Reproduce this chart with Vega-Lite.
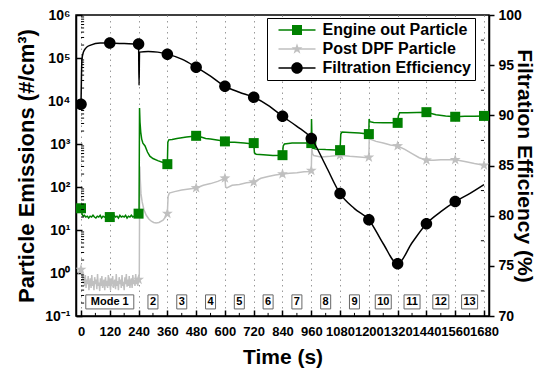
{
  "$schema": "https://vega.github.io/schema/vega-lite/v6.json",
  "width": 413,
  "height": 301,
  "autosize": {"type": "none"},
  "padding": {"left": 76, "top": 15, "right": 59, "bottom": 52},
  "datasets": {
    "series": [
      {"s": "Engine out Particle", "t": 0, "v": 32}, {"s": "Engine out Particle", "t": 2, "v": 27}, {"s": "Engine out Particle", "t": 5, "v": 23}, {"s": "Engine out Particle", "t": 9, "v": 21}, {"s": "Engine out Particle", "t": 14, "v": 22}, {"s": "Engine out Particle", "t": 20, "v": 20}, {"s": "Engine out Particle", "t": 26, "v": 21}, {"s": "Engine out Particle", "t": 32, "v": 19}, {"s": "Engine out Particle", "t": 38, "v": 21}, {"s": "Engine out Particle", "t": 44, "v": 20}, {"s": "Engine out Particle", "t": 50, "v": 22}, {"s": "Engine out Particle", "t": 56, "v": 20}, {"s": "Engine out Particle", "t": 62, "v": 19}, {"s": "Engine out Particle", "t": 68, "v": 21}, {"s": "Engine out Particle", "t": 74, "v": 20}, {"s": "Engine out Particle", "t": 80, "v": 22}, {"s": "Engine out Particle", "t": 86, "v": 19}, {"s": "Engine out Particle", "t": 92, "v": 21}, {"s": "Engine out Particle", "t": 98, "v": 20}, {"s": "Engine out Particle", "t": 104, "v": 21}, {"s": "Engine out Particle", "t": 110, "v": 19}, {"s": "Engine out Particle", "t": 116, "v": 20}, {"s": "Engine out Particle", "t": 120, "v": 20}, {"s": "Engine out Particle", "t": 126, "v": 21}, {"s": "Engine out Particle", "t": 132, "v": 19}, {"s": "Engine out Particle", "t": 138, "v": 22}, {"s": "Engine out Particle", "t": 144, "v": 20}, {"s": "Engine out Particle", "t": 150, "v": 21}, {"s": "Engine out Particle", "t": 156, "v": 19}, {"s": "Engine out Particle", "t": 162, "v": 22}, {"s": "Engine out Particle", "t": 168, "v": 20}, {"s": "Engine out Particle", "t": 174, "v": 21}, {"s": "Engine out Particle", "t": 180, "v": 20}, {"s": "Engine out Particle", "t": 186, "v": 22}, {"s": "Engine out Particle", "t": 192, "v": 19}, {"s": "Engine out Particle", "t": 198, "v": 21}, {"s": "Engine out Particle", "t": 204, "v": 20}, {"s": "Engine out Particle", "t": 210, "v": 22}, {"s": "Engine out Particle", "t": 216, "v": 20}, {"s": "Engine out Particle", "t": 222, "v": 21}, {"s": "Engine out Particle", "t": 228, "v": 22}, {"s": "Engine out Particle", "t": 234, "v": 21}, {"s": "Engine out Particle", "t": 240, "v": 24}, {"s": "Engine out Particle", "t": 242, "v": 25}, {"s": "Engine out Particle", "t": 244, "v": 6900}, {"s": "Engine out Particle", "t": 246, "v": 3200}, {"s": "Engine out Particle", "t": 249, "v": 1900}, {"s": "Engine out Particle", "t": 253, "v": 1300}, {"s": "Engine out Particle", "t": 258, "v": 1050}, {"s": "Engine out Particle", "t": 267, "v": 900}, {"s": "Engine out Particle", "t": 277, "v": 650}, {"s": "Engine out Particle", "t": 287, "v": 520}, {"s": "Engine out Particle", "t": 300, "v": 460}, {"s": "Engine out Particle", "t": 320, "v": 410}, {"s": "Engine out Particle", "t": 342, "v": 370}, {"s": "Engine out Particle", "t": 358, "v": 345}, {"s": "Engine out Particle", "t": 360, "v": 340}, {"s": "Engine out Particle", "t": 362, "v": 1100}, {"s": "Engine out Particle", "t": 366, "v": 1250}, {"s": "Engine out Particle", "t": 380, "v": 1280}, {"s": "Engine out Particle", "t": 400, "v": 1350}, {"s": "Engine out Particle", "t": 420, "v": 1400}, {"s": "Engine out Particle", "t": 440, "v": 1450}, {"s": "Engine out Particle", "t": 460, "v": 1500}, {"s": "Engine out Particle", "t": 480, "v": 1550}, {"s": "Engine out Particle", "t": 500, "v": 1450}, {"s": "Engine out Particle", "t": 520, "v": 1350}, {"s": "Engine out Particle", "t": 540, "v": 1300}, {"s": "Engine out Particle", "t": 560, "v": 1250}, {"s": "Engine out Particle", "t": 580, "v": 1200}, {"s": "Engine out Particle", "t": 600, "v": 1150}, {"s": "Engine out Particle", "t": 602, "v": 950}, {"s": "Engine out Particle", "t": 606, "v": 1100}, {"s": "Engine out Particle", "t": 640, "v": 1100}, {"s": "Engine out Particle", "t": 680, "v": 1050}, {"s": "Engine out Particle", "t": 718, "v": 1000}, {"s": "Engine out Particle", "t": 720, "v": 1050}, {"s": "Engine out Particle", "t": 723, "v": 620}, {"s": "Engine out Particle", "t": 730, "v": 580}, {"s": "Engine out Particle", "t": 760, "v": 560}, {"s": "Engine out Particle", "t": 800, "v": 540}, {"s": "Engine out Particle", "t": 840, "v": 550}, {"s": "Engine out Particle", "t": 843, "v": 900}, {"s": "Engine out Particle", "t": 848, "v": 1000}, {"s": "Engine out Particle", "t": 880, "v": 1050}, {"s": "Engine out Particle", "t": 920, "v": 1050}, {"s": "Engine out Particle", "t": 958, "v": 1060}, {"s": "Engine out Particle", "t": 960, "v": 1050}, {"s": "Engine out Particle", "t": 961, "v": 3800}, {"s": "Engine out Particle", "t": 963, "v": 1200}, {"s": "Engine out Particle", "t": 966, "v": 800}, {"s": "Engine out Particle", "t": 980, "v": 760}, {"s": "Engine out Particle", "t": 1020, "v": 740}, {"s": "Engine out Particle", "t": 1060, "v": 730}, {"s": "Engine out Particle", "t": 1080, "v": 720}, {"s": "Engine out Particle", "t": 1083, "v": 1700}, {"s": "Engine out Particle", "t": 1088, "v": 1900}, {"s": "Engine out Particle", "t": 1120, "v": 1850}, {"s": "Engine out Particle", "t": 1160, "v": 1800}, {"s": "Engine out Particle", "t": 1200, "v": 1700}, {"s": "Engine out Particle", "t": 1201, "v": 3800}, {"s": "Engine out Particle", "t": 1204, "v": 3300}, {"s": "Engine out Particle", "t": 1220, "v": 3150}, {"s": "Engine out Particle", "t": 1260, "v": 3100}, {"s": "Engine out Particle", "t": 1300, "v": 3100}, {"s": "Engine out Particle", "t": 1320, "v": 3100}, {"s": "Engine out Particle", "t": 1323, "v": 4500}, {"s": "Engine out Particle", "t": 1328, "v": 5300}, {"s": "Engine out Particle", "t": 1360, "v": 5300}, {"s": "Engine out Particle", "t": 1400, "v": 5400}, {"s": "Engine out Particle", "t": 1440, "v": 5500}, {"s": "Engine out Particle", "t": 1480, "v": 4800}, {"s": "Engine out Particle", "t": 1520, "v": 4500}, {"s": "Engine out Particle", "t": 1560, "v": 4300}, {"s": "Engine out Particle", "t": 1600, "v": 4400}, {"s": "Engine out Particle", "t": 1640, "v": 4400}, {"s": "Engine out Particle", "t": 1680, "v": 4500},
      {"s": "Post DPF Particle", "t": 0, "v": 1.2}, {"s": "Post DPF Particle", "t": 3, "v": 0.9}, {"s": "Post DPF Particle", "t": 6, "v": 1.0}, {"s": "Post DPF Particle", "t": 9, "v": 0.6}, {"s": "Post DPF Particle", "t": 12, "v": 0.8}, {"s": "Post DPF Particle", "t": 15, "v": 0.5}, {"s": "Post DPF Particle", "t": 18, "v": 0.9}, {"s": "Post DPF Particle", "t": 21, "v": 0.45}, {"s": "Post DPF Particle", "t": 24, "v": 0.7}, {"s": "Post DPF Particle", "t": 27, "v": 0.55}, {"s": "Post DPF Particle", "t": 30, "v": 0.85}, {"s": "Post DPF Particle", "t": 33, "v": 0.4}, {"s": "Post DPF Particle", "t": 36, "v": 0.6}, {"s": "Post DPF Particle", "t": 39, "v": 0.75}, {"s": "Post DPF Particle", "t": 42, "v": 0.45}, {"s": "Post DPF Particle", "t": 45, "v": 0.9}, {"s": "Post DPF Particle", "t": 48, "v": 0.5}, {"s": "Post DPF Particle", "t": 51, "v": 0.65}, {"s": "Post DPF Particle", "t": 54, "v": 0.4}, {"s": "Post DPF Particle", "t": 57, "v": 0.8}, {"s": "Post DPF Particle", "t": 60, "v": 0.55}, {"s": "Post DPF Particle", "t": 63, "v": 0.7}, {"s": "Post DPF Particle", "t": 66, "v": 0.42}, {"s": "Post DPF Particle", "t": 69, "v": 0.95}, {"s": "Post DPF Particle", "t": 72, "v": 0.5}, {"s": "Post DPF Particle", "t": 75, "v": 0.6}, {"s": "Post DPF Particle", "t": 78, "v": 0.38}, {"s": "Post DPF Particle", "t": 81, "v": 0.75}, {"s": "Post DPF Particle", "t": 84, "v": 0.5}, {"s": "Post DPF Particle", "t": 87, "v": 0.85}, {"s": "Post DPF Particle", "t": 90, "v": 0.45}, {"s": "Post DPF Particle", "t": 93, "v": 0.6}, {"s": "Post DPF Particle", "t": 96, "v": 0.7}, {"s": "Post DPF Particle", "t": 99, "v": 0.4}, {"s": "Post DPF Particle", "t": 102, "v": 0.8}, {"s": "Post DPF Particle", "t": 105, "v": 0.5}, {"s": "Post DPF Particle", "t": 108, "v": 0.65}, {"s": "Post DPF Particle", "t": 111, "v": 0.45}, {"s": "Post DPF Particle", "t": 114, "v": 0.9}, {"s": "Post DPF Particle", "t": 117, "v": 0.5}, {"s": "Post DPF Particle", "t": 120, "v": 0.6}, {"s": "Post DPF Particle", "t": 123, "v": 0.4}, {"s": "Post DPF Particle", "t": 126, "v": 0.75}, {"s": "Post DPF Particle", "t": 129, "v": 0.55}, {"s": "Post DPF Particle", "t": 132, "v": 0.85}, {"s": "Post DPF Particle", "t": 135, "v": 0.45}, {"s": "Post DPF Particle", "t": 138, "v": 0.6}, {"s": "Post DPF Particle", "t": 141, "v": 0.7}, {"s": "Post DPF Particle", "t": 144, "v": 0.42}, {"s": "Post DPF Particle", "t": 147, "v": 0.95}, {"s": "Post DPF Particle", "t": 150, "v": 0.5}, {"s": "Post DPF Particle", "t": 153, "v": 0.65}, {"s": "Post DPF Particle", "t": 156, "v": 0.4}, {"s": "Post DPF Particle", "t": 159, "v": 0.8}, {"s": "Post DPF Particle", "t": 162, "v": 0.55}, {"s": "Post DPF Particle", "t": 165, "v": 0.7}, {"s": "Post DPF Particle", "t": 168, "v": 0.45}, {"s": "Post DPF Particle", "t": 171, "v": 0.9}, {"s": "Post DPF Particle", "t": 174, "v": 0.5}, {"s": "Post DPF Particle", "t": 177, "v": 0.62}, {"s": "Post DPF Particle", "t": 180, "v": 0.4}, {"s": "Post DPF Particle", "t": 183, "v": 0.8}, {"s": "Post DPF Particle", "t": 186, "v": 0.55}, {"s": "Post DPF Particle", "t": 189, "v": 0.95}, {"s": "Post DPF Particle", "t": 192, "v": 0.48}, {"s": "Post DPF Particle", "t": 195, "v": 0.7}, {"s": "Post DPF Particle", "t": 198, "v": 0.5}, {"s": "Post DPF Particle", "t": 201, "v": 0.85}, {"s": "Post DPF Particle", "t": 204, "v": 0.45}, {"s": "Post DPF Particle", "t": 207, "v": 0.65}, {"s": "Post DPF Particle", "t": 210, "v": 0.75}, {"s": "Post DPF Particle", "t": 213, "v": 0.45}, {"s": "Post DPF Particle", "t": 216, "v": 0.9}, {"s": "Post DPF Particle", "t": 219, "v": 0.55}, {"s": "Post DPF Particle", "t": 222, "v": 0.7}, {"s": "Post DPF Particle", "t": 225, "v": 0.5}, {"s": "Post DPF Particle", "t": 228, "v": 0.95}, {"s": "Post DPF Particle", "t": 231, "v": 0.55}, {"s": "Post DPF Particle", "t": 234, "v": 0.75}, {"s": "Post DPF Particle", "t": 237, "v": 0.5}, {"s": "Post DPF Particle", "t": 240, "v": 0.7}, {"s": "Post DPF Particle", "t": 243, "v": 0.9}, {"s": "Post DPF Particle", "t": 245, "v": 300}, {"s": "Post DPF Particle", "t": 247, "v": 150}, {"s": "Post DPF Particle", "t": 250, "v": 70}, {"s": "Post DPF Particle", "t": 255, "v": 45}, {"s": "Post DPF Particle", "t": 262, "v": 30}, {"s": "Post DPF Particle", "t": 272, "v": 22}, {"s": "Post DPF Particle", "t": 283, "v": 18}, {"s": "Post DPF Particle", "t": 293, "v": 16}, {"s": "Post DPF Particle", "t": 303, "v": 15}, {"s": "Post DPF Particle", "t": 313, "v": 14.5}, {"s": "Post DPF Particle", "t": 325, "v": 15}, {"s": "Post DPF Particle", "t": 342, "v": 17}, {"s": "Post DPF Particle", "t": 352, "v": 20}, {"s": "Post DPF Particle", "t": 358, "v": 23}, {"s": "Post DPF Particle", "t": 360, "v": 24}, {"s": "Post DPF Particle", "t": 363, "v": 60}, {"s": "Post DPF Particle", "t": 368, "v": 72}, {"s": "Post DPF Particle", "t": 390, "v": 78}, {"s": "Post DPF Particle", "t": 420, "v": 85}, {"s": "Post DPF Particle", "t": 450, "v": 90}, {"s": "Post DPF Particle", "t": 480, "v": 95}, {"s": "Post DPF Particle", "t": 510, "v": 110}, {"s": "Post DPF Particle", "t": 540, "v": 120}, {"s": "Post DPF Particle", "t": 570, "v": 135}, {"s": "Post DPF Particle", "t": 595, "v": 155}, {"s": "Post DPF Particle", "t": 600, "v": 160}, {"s": "Post DPF Particle", "t": 603, "v": 100}, {"s": "Post DPF Particle", "t": 608, "v": 95}, {"s": "Post DPF Particle", "t": 630, "v": 110}, {"s": "Post DPF Particle", "t": 660, "v": 115}, {"s": "Post DPF Particle", "t": 690, "v": 125}, {"s": "Post DPF Particle", "t": 720, "v": 130}, {"s": "Post DPF Particle", "t": 750, "v": 160}, {"s": "Post DPF Particle", "t": 780, "v": 175}, {"s": "Post DPF Particle", "t": 810, "v": 190}, {"s": "Post DPF Particle", "t": 840, "v": 200}, {"s": "Post DPF Particle", "t": 870, "v": 210}, {"s": "Post DPF Particle", "t": 900, "v": 215}, {"s": "Post DPF Particle", "t": 930, "v": 225}, {"s": "Post DPF Particle", "t": 958, "v": 230}, {"s": "Post DPF Particle", "t": 960, "v": 240}, {"s": "Post DPF Particle", "t": 962, "v": 850}, {"s": "Post DPF Particle", "t": 965, "v": 600}, {"s": "Post DPF Particle", "t": 970, "v": 540}, {"s": "Post DPF Particle", "t": 1000, "v": 500}, {"s": "Post DPF Particle", "t": 1040, "v": 520}, {"s": "Post DPF Particle", "t": 1080, "v": 550}, {"s": "Post DPF Particle", "t": 1120, "v": 520}, {"s": "Post DPF Particle", "t": 1160, "v": 500}, {"s": "Post DPF Particle", "t": 1198, "v": 480}, {"s": "Post DPF Particle", "t": 1200, "v": 490}, {"s": "Post DPF Particle", "t": 1202, "v": 1800}, {"s": "Post DPF Particle", "t": 1206, "v": 1300}, {"s": "Post DPF Particle", "t": 1230, "v": 1150}, {"s": "Post DPF Particle", "t": 1260, "v": 1050}, {"s": "Post DPF Particle", "t": 1290, "v": 950}, {"s": "Post DPF Particle", "t": 1320, "v": 900}, {"s": "Post DPF Particle", "t": 1350, "v": 750}, {"s": "Post DPF Particle", "t": 1380, "v": 600}, {"s": "Post DPF Particle", "t": 1410, "v": 480}, {"s": "Post DPF Particle", "t": 1440, "v": 420}, {"s": "Post DPF Particle", "t": 1470, "v": 420}, {"s": "Post DPF Particle", "t": 1500, "v": 430}, {"s": "Post DPF Particle", "t": 1530, "v": 430}, {"s": "Post DPF Particle", "t": 1560, "v": 430}, {"s": "Post DPF Particle", "t": 1600, "v": 390}, {"s": "Post DPF Particle", "t": 1640, "v": 350}, {"s": "Post DPF Particle", "t": 1680, "v": 320}
    ],
    "eff": [
      {"s": "Filtration Efficiency", "t": 0, "v": 91.1}, {"s": "Filtration Efficiency", "t": 2, "v": 94.0}, {"s": "Filtration Efficiency", "t": 4, "v": 95.6}, {"s": "Filtration Efficiency", "t": 10, "v": 96.3}, {"s": "Filtration Efficiency", "t": 20, "v": 96.7}, {"s": "Filtration Efficiency", "t": 40, "v": 97.0}, {"s": "Filtration Efficiency", "t": 80, "v": 97.2}, {"s": "Filtration Efficiency", "t": 120, "v": 97.2}, {"s": "Filtration Efficiency", "t": 180, "v": 97.15}, {"s": "Filtration Efficiency", "t": 238, "v": 97.1}, {"s": "Filtration Efficiency", "t": 240, "v": 97.1}, {"s": "Filtration Efficiency", "t": 242, "v": 93.0}, {"s": "Filtration Efficiency", "t": 244, "v": 96.3}, {"s": "Filtration Efficiency", "t": 280, "v": 96.35}, {"s": "Filtration Efficiency", "t": 320, "v": 96.3}, {"s": "Filtration Efficiency", "t": 360, "v": 96.1}, {"s": "Filtration Efficiency", "t": 420, "v": 95.6}, {"s": "Filtration Efficiency", "t": 480, "v": 94.8}, {"s": "Filtration Efficiency", "t": 540, "v": 93.9}, {"s": "Filtration Efficiency", "t": 600, "v": 92.9}, {"s": "Filtration Efficiency", "t": 660, "v": 92.3}, {"s": "Filtration Efficiency", "t": 720, "v": 91.8}, {"s": "Filtration Efficiency", "t": 780, "v": 91.0}, {"s": "Filtration Efficiency", "t": 840, "v": 89.9}, {"s": "Filtration Efficiency", "t": 900, "v": 88.9}, {"s": "Filtration Efficiency", "t": 960, "v": 87.7}, {"s": "Filtration Efficiency", "t": 1020, "v": 85.0}, {"s": "Filtration Efficiency", "t": 1080, "v": 82.2}, {"s": "Filtration Efficiency", "t": 1140, "v": 80.7}, {"s": "Filtration Efficiency", "t": 1200, "v": 79.6}, {"s": "Filtration Efficiency", "t": 1260, "v": 77.2}, {"s": "Filtration Efficiency", "t": 1320, "v": 75.2}, {"s": "Filtration Efficiency", "t": 1380, "v": 77.3}, {"s": "Filtration Efficiency", "t": 1440, "v": 79.2}, {"s": "Filtration Efficiency", "t": 1500, "v": 80.4}, {"s": "Filtration Efficiency", "t": 1560, "v": 81.4}, {"s": "Filtration Efficiency", "t": 1620, "v": 82.2}, {"s": "Filtration Efficiency", "t": 1680, "v": 83.1}
    ],
    "modes": [
      {"m": "Mode 1", "t": 120}, {"m": "2", "t": 300}, {"m": "3", "t": 420}, {"m": "4", "t": 540}, {"m": "5", "t": 660}, {"m": "6", "t": 780}, {"m": "7", "t": 900}, {"m": "8", "t": 1020}, {"m": "9", "t": 1140}, {"m": "10", "t": 1260}, {"m": "11", "t": 1380}, {"m": "12", "t": 1500}, {"m": "13", "t": 1620}
    ],
    "minorX": [{"t": 60}, {"t": 180}, {"t": 300}, {"t": 420}, {"t": 540}, {"t": 660}, {"t": 780}, {"t": 900}, {"t": 1020}, {"t": 1140}, {"t": 1260}, {"t": 1380}, {"t": 1500}, {"t": 1620}],
    "minorLog": [
      {"v": 0.2}, {"v": 0.3}, {"v": 0.4}, {"v": 0.5}, {"v": 0.6}, {"v": 0.7}, {"v": 0.8}, {"v": 0.9},
      {"v": 2}, {"v": 3}, {"v": 4}, {"v": 5}, {"v": 6}, {"v": 7}, {"v": 8}, {"v": 9},
      {"v": 20}, {"v": 30}, {"v": 40}, {"v": 50}, {"v": 60}, {"v": 70}, {"v": 80}, {"v": 90},
      {"v": 200}, {"v": 300}, {"v": 400}, {"v": 500}, {"v": 600}, {"v": 700}, {"v": 800}, {"v": 900},
      {"v": 2000}, {"v": 3000}, {"v": 4000}, {"v": 5000}, {"v": 6000}, {"v": 7000}, {"v": 8000}, {"v": 9000},
      {"v": 20000}, {"v": 30000}, {"v": 40000}, {"v": 50000}, {"v": 60000}, {"v": 70000}, {"v": 80000}, {"v": 90000},
      {"v": 200000}, {"v": 300000}, {"v": 400000}, {"v": 500000}, {"v": 600000}, {"v": 700000}, {"v": 800000}, {"v": 900000}
    ],
    "minorR": [{"v": 72.5}, {"v": 77.5}, {"v": 82.5}, {"v": 87.5}, {"v": 92.5}, {"v": 97.5}]
  },
  "layer": [
    {
      "layer": [
        {
          "data": {"name": "series"},
          "transform": [{"filter": "datum.s == 'Post DPF Particle'"}],
          "mark": {"type": "line", "color": "#c0c0c0", "strokeWidth": 1.5, "clip": true},
          "encoding": {
            "x": {"field": "t", "type": "quantitative", "scale": {"domain": [0, 1680], "nice": false, "zero": false}, "axis": {"title": "Time (s)", "values": [0, 120, 240, 360, 480, 600, 720, 840, 960, 1080, 1200, 1320, 1440, 1560, 1680], "format": "d", "labelOverlap": false, "labelFontSize": 13, "tickSize": -6, "labelPadding": 15, "grid": true, "gridDash": [1.5, 4], "gridColor": "#9a9a9a", "gridWidth": 1, "titleFontSize": 21, "titleY": 47, "titleBaseline": "alphabetic"}},
            "y": {"field": "v", "type": "quantitative", "scale": {"type": "log", "domain": [0.1, 1000000], "nice": false}, "axis": {"title": "Particle Emissions (#/cm³)", "values": [0.1, 1, 10, 100, 1000, 10000, 100000, 1000000], "labelExpr": "'10' + ['⁻¹','⁰','¹','²','³','⁴','⁵','⁶'][round(log(datum.value)/LN10) + 1]", "labelOverlap": false, "labelFontSize": 14, "tickSize": -6, "labelPadding": 12, "grid": false, "titleFontSize": 22, "titleX": -43, "titleBaseline": "alphabetic"}}
          }
        },
        {
          "data": {"name": "series"},
          "transform": [{"filter": "datum.s == 'Post DPF Particle' && datum.t % 120 == 0"}],
          "mark": {"type": "point", "filled": true, "opacity": 1, "size": 100, "clip": true, "color": "#c0c0c0", "shape": "M0,-1.15L0.27,-0.37L1.09,-0.36L0.44,0.14L0.68,0.93L0,0.46L-0.68,0.93L-0.44,0.14L-1.09,-0.36L-0.27,-0.37Z"},
          "encoding": {
            "x": {"field": "t", "type": "quantitative", "scale": {"domain": [0, 1680], "nice": false, "zero": false}, "axis": {"title": "Time (s)", "values": [0, 120, 240, 360, 480, 600, 720, 840, 960, 1080, 1200, 1320, 1440, 1560, 1680], "format": "d", "labelOverlap": false, "labelFontSize": 13, "tickSize": -6, "labelPadding": 15, "grid": true, "gridDash": [1.5, 4], "gridColor": "#9a9a9a", "gridWidth": 1, "titleFontSize": 21, "titleY": 47, "titleBaseline": "alphabetic"}},
            "y": {"field": "v", "type": "quantitative"}
          }
        },
        {
          "data": {"name": "series"},
          "transform": [{"filter": "datum.s == 'Engine out Particle'"}],
          "mark": {"type": "line", "color": "#008000", "strokeWidth": 1.5, "clip": true},
          "encoding": {
            "x": {"field": "t", "type": "quantitative", "scale": {"domain": [0, 1680], "nice": false, "zero": false}, "axis": {"title": "Time (s)", "values": [0, 120, 240, 360, 480, 600, 720, 840, 960, 1080, 1200, 1320, 1440, 1560, 1680], "format": "d", "labelOverlap": false, "labelFontSize": 13, "tickSize": -6, "labelPadding": 15, "grid": true, "gridDash": [1.5, 4], "gridColor": "#9a9a9a", "gridWidth": 1, "titleFontSize": 21, "titleY": 47, "titleBaseline": "alphabetic"}},
            "y": {"field": "v", "type": "quantitative"}
          }
        },
        {
          "data": {"name": "series"},
          "transform": [{"filter": "datum.s == 'Engine out Particle' && datum.t % 120 == 0"}],
          "mark": {"type": "point", "filled": true, "opacity": 1, "size": 100, "clip": true, "color": "#008000", "shape": "M-1,-1H1V1H-1Z"},
          "encoding": {
            "x": {"field": "t", "type": "quantitative", "scale": {"domain": [0, 1680], "nice": false, "zero": false}, "axis": {"title": "Time (s)", "values": [0, 120, 240, 360, 480, 600, 720, 840, 960, 1080, 1200, 1320, 1440, 1560, 1680], "format": "d", "labelOverlap": false, "labelFontSize": 13, "tickSize": -6, "labelPadding": 15, "grid": true, "gridDash": [1.5, 4], "gridColor": "#9a9a9a", "gridWidth": 1, "titleFontSize": 21, "titleY": 47, "titleBaseline": "alphabetic"}},
            "y": {"field": "v", "type": "quantitative"}
          }
        },
        {
          "data": {"name": "modes"},
          "transform": [{"filter": "datum.m == 'Mode 1'"}],
          "mark": {"type": "bar", "width": 48, "fill": "#ffffff", "stroke": "#666666", "strokeWidth": 1},
          "encoding": {
            "x": {"field": "t", "type": "quantitative", "scale": {"domain": [0, 1680], "nice": false, "zero": false}, "axis": {"title": "Time (s)", "values": [0, 120, 240, 360, 480, 600, 720, 840, 960, 1080, 1200, 1320, 1440, 1560, 1680], "format": "d", "labelOverlap": false, "labelFontSize": 13, "tickSize": -6, "labelPadding": 15, "grid": true, "gridDash": [1.5, 4], "gridColor": "#9a9a9a", "gridWidth": 1, "titleFontSize": 21, "titleY": 47, "titleBaseline": "alphabetic"}},
            "y": {"datum": 0.31, "type": "quantitative"},
            "y2": {"datum": 0.146}
          }
        },
        {
          "data": {"name": "modes"},
          "transform": [{"filter": "length(datum.m) == 1"}],
          "mark": {"type": "bar", "width": 10, "fill": "#ffffff", "stroke": "#666666", "strokeWidth": 1},
          "encoding": {
            "x": {"field": "t", "type": "quantitative", "scale": {"domain": [0, 1680], "nice": false, "zero": false}, "axis": {"title": "Time (s)", "values": [0, 120, 240, 360, 480, 600, 720, 840, 960, 1080, 1200, 1320, 1440, 1560, 1680], "format": "d", "labelOverlap": false, "labelFontSize": 13, "tickSize": -6, "labelPadding": 15, "grid": true, "gridDash": [1.5, 4], "gridColor": "#9a9a9a", "gridWidth": 1, "titleFontSize": 21, "titleY": 47, "titleBaseline": "alphabetic"}},
            "y": {"datum": 0.31, "type": "quantitative"},
            "y2": {"datum": 0.146}
          }
        },
        {
          "data": {"name": "modes"},
          "transform": [{"filter": "length(datum.m) == 2"}],
          "mark": {"type": "bar", "width": 16, "fill": "#ffffff", "stroke": "#666666", "strokeWidth": 1},
          "encoding": {
            "x": {"field": "t", "type": "quantitative", "scale": {"domain": [0, 1680], "nice": false, "zero": false}, "axis": {"title": "Time (s)", "values": [0, 120, 240, 360, 480, 600, 720, 840, 960, 1080, 1200, 1320, 1440, 1560, 1680], "format": "d", "labelOverlap": false, "labelFontSize": 13, "tickSize": -6, "labelPadding": 15, "grid": true, "gridDash": [1.5, 4], "gridColor": "#9a9a9a", "gridWidth": 1, "titleFontSize": 21, "titleY": 47, "titleBaseline": "alphabetic"}},
            "y": {"datum": 0.31, "type": "quantitative"},
            "y2": {"datum": 0.146}
          }
        },
        {
          "data": {"name": "modes"},
          "mark": {"type": "text", "font": "Liberation Sans", "fontWeight": "bold", "fontSize": 11, "baseline": "middle", "align": "center", "color": "#000000"},
          "encoding": {
            "x": {"field": "t", "type": "quantitative", "scale": {"domain": [0, 1680], "nice": false, "zero": false}, "axis": {"title": "Time (s)", "values": [0, 120, 240, 360, 480, 600, 720, 840, 960, 1080, 1200, 1320, 1440, 1560, 1680], "format": "d", "labelOverlap": false, "labelFontSize": 13, "tickSize": -6, "labelPadding": 15, "grid": true, "gridDash": [1.5, 4], "gridColor": "#9a9a9a", "gridWidth": 1, "titleFontSize": 21, "titleY": 47, "titleBaseline": "alphabetic"}},
            "y": {"datum": 0.2127, "type": "quantitative"},
            "text": {"field": "m"}
          }
        },
        {
          "data": {"name": "minorX"},
          "mark": {"type": "rule", "color": "#000000", "strokeWidth": 1},
          "encoding": {
            "x": {"field": "t", "type": "quantitative", "scale": {"domain": [0, 1680], "nice": false, "zero": false}, "axis": {"title": "Time (s)", "values": [0, 120, 240, 360, 480, 600, 720, 840, 960, 1080, 1200, 1320, 1440, 1560, 1680], "format": "d", "labelOverlap": false, "labelFontSize": 13, "tickSize": -6, "labelPadding": 15, "grid": true, "gridDash": [1.5, 4], "gridColor": "#9a9a9a", "gridWidth": 1, "titleFontSize": 21, "titleY": 47, "titleBaseline": "alphabetic"}},
            "y": {"datum": 0.1, "type": "quantitative"},
            "y2": {"datum": 0.118}
          }
        },
        {
          "data": {"name": "minorLog"},
          "mark": {"type": "rule", "color": "#000000", "strokeWidth": 1},
          "encoding": {
            "x": {"datum": 0, "type": "quantitative", "scale": {"domain": [0, 1680], "nice": false, "zero": false}, "axis": {"title": "Time (s)", "values": [0, 120, 240, 360, 480, 600, 720, 840, 960, 1080, 1200, 1320, 1440, 1560, 1680], "format": "d", "labelOverlap": false, "labelFontSize": 13, "tickSize": -6, "labelPadding": 15, "grid": true, "gridDash": [1.5, 4], "gridColor": "#9a9a9a", "gridWidth": 1, "titleFontSize": 21, "titleY": 47, "titleBaseline": "alphabetic"}},
            "x2": {"datum": 13},
            "y": {"field": "v", "type": "quantitative"}
          }
        },
        {
          "data": {"name": "series"},
          "transform": [{"filter": "datum.t < 0"}],
          "mark": {"type": "point", "filled": true, "opacity": 1, "size": 100},
          "encoding": {
            "x": {"field": "t", "type": "quantitative", "scale": {"domain": [0, 1680], "nice": false, "zero": false}, "axis": {"title": "Time (s)", "values": [0, 120, 240, 360, 480, 600, 720, 840, 960, 1080, 1200, 1320, 1440, 1560, 1680], "format": "d", "labelOverlap": false, "labelFontSize": 13, "tickSize": -6, "labelPadding": 15, "grid": true, "gridDash": [1.5, 4], "gridColor": "#9a9a9a", "gridWidth": 1, "titleFontSize": 21, "titleY": 47, "titleBaseline": "alphabetic"}},
            "y": {"field": "v", "type": "quantitative"},
            "color": {"field": "s", "type": "nominal", "scale": {"domain": ["Engine out Particle", "Post DPF Particle", "Filtration Efficiency"], "range": ["#008000", "#c0c0c0", "#000000"]}, "legend": {
              "title": null, "orient": "none", "legendX": 191, "legendY": 3, "zindex": 2,
              "padding": 4, "strokeColor": "#000000", "fillColor": "#ffffff",
              "labelFontSize": 16, "labelFontWeight": "bold", "labelColor": "#000000", "labelFont": "Liberation Sans",
              "symbolSize": 100, "symbolOffset": 18, "labelOffset": 17.5, "rowPadding": 3, "symbolStrokeWidth": 0
            }},
            "shape": {"field": "s", "type": "nominal", "scale": {"domain": ["Engine out Particle", "Post DPF Particle", "Filtration Efficiency"], "range": ["M-3.7,-0.15H3.7V0.15H-3.7Z M-1,-1H1V1H-1Z", "M-3.7,-0.15H3.7V0.15H-3.7Z M0,-1.15L0.27,-0.37L1.09,-0.36L0.44,0.14L0.68,0.93L0,0.46L-0.68,0.93L-0.44,0.14L-1.09,-0.36L-0.27,-0.37Z", "M-3.7,-0.15H3.7V0.15H-3.7Z M1.15,0A1.15,1.15 0 1,1 -1.15,0A1.15,1.15 0 1,1 1.15,0Z"]}, "legend": {
              "title": null, "orient": "none", "legendX": 191, "legendY": 3, "zindex": 2,
              "padding": 4, "strokeColor": "#000000", "fillColor": "#ffffff",
              "labelFontSize": 16, "labelFontWeight": "bold", "labelColor": "#000000", "labelFont": "Liberation Sans",
              "symbolSize": 100, "symbolOffset": 18, "labelOffset": 17.5, "rowPadding": 3, "symbolStrokeWidth": 0
            }}
          }
        }
      ]
    },
    {
      "layer": [
        {
          "data": {"name": "eff"},
          "mark": {"type": "line", "color": "#000000", "strokeWidth": 1.5, "interpolate": "monotone", "clip": true},
          "encoding": {
            "x": {"field": "t", "type": "quantitative", "scale": {"domain": [0, 1680], "nice": false, "zero": false}, "axis": {"title": "Time (s)", "values": [0, 120, 240, 360, 480, 600, 720, 840, 960, 1080, 1200, 1320, 1440, 1560, 1680], "format": "d", "labelOverlap": false, "labelFontSize": 13, "tickSize": -6, "labelPadding": 15, "grid": true, "gridDash": [1.5, 4], "gridColor": "#9a9a9a", "gridWidth": 1, "titleFontSize": 21, "titleY": 47, "titleBaseline": "alphabetic"}},
            "y": {"field": "v", "type": "quantitative", "scale": {"domain": [70, 100], "nice": false, "zero": false}, "axis": {"orient": "right", "title": "Filtration Efficiency (%)", "values": [70, 75, 80, 85, 90, 95, 100], "labelOverlap": false, "labelFontSize": 14, "tickSize": 5, "labelPadding": 4, "grid": false, "titleFontSize": 21, "titleAngle": 90, "titleX": 28, "titleBaseline": "alphabetic"}}
          }
        },
        {
          "data": {"name": "eff"},
          "transform": [{"filter": "datum.t % 120 == 0 && datum.t < 1680"}],
          "mark": {"type": "point", "filled": true, "opacity": 1, "size": 100, "clip": true, "color": "#000000", "shape": "M1.15,0A1.15,1.15 0 1,1 -1.15,0A1.15,1.15 0 1,1 1.15,0Z"},
          "encoding": {
            "x": {"field": "t", "type": "quantitative", "scale": {"domain": [0, 1680], "nice": false, "zero": false}, "axis": {"title": "Time (s)", "values": [0, 120, 240, 360, 480, 600, 720, 840, 960, 1080, 1200, 1320, 1440, 1560, 1680], "format": "d", "labelOverlap": false, "labelFontSize": 13, "tickSize": -6, "labelPadding": 15, "grid": true, "gridDash": [1.5, 4], "gridColor": "#9a9a9a", "gridWidth": 1, "titleFontSize": 21, "titleY": 47, "titleBaseline": "alphabetic"}},
            "y": {"field": "v", "type": "quantitative"}
          }
        },
        {
          "data": {"name": "minorR"},
          "mark": {"type": "rule", "color": "#000000", "strokeWidth": 1},
          "encoding": {
            "x": {"datum": 1667, "type": "quantitative", "scale": {"domain": [0, 1680], "nice": false, "zero": false}, "axis": {"title": "Time (s)", "values": [0, 120, 240, 360, 480, 600, 720, 840, 960, 1080, 1200, 1320, 1440, 1560, 1680], "format": "d", "labelOverlap": false, "labelFontSize": 13, "tickSize": -6, "labelPadding": 15, "grid": true, "gridDash": [1.5, 4], "gridColor": "#9a9a9a", "gridWidth": 1, "titleFontSize": 21, "titleY": 47, "titleBaseline": "alphabetic"}},
            "x2": {"datum": 1680},
            "y": {"field": "v", "type": "quantitative"}
          }
        }
      ]
    }
  ],
  "resolve": {"scale": {"y": "independent"}},
  "config": {
    "font": "Liberation Sans",
    "view": {"stroke": "#000000", "strokeWidth": 1.5},
    "axis": {
      "labelFont": "Liberation Sans", "labelFontWeight": "bold", "labelColor": "#000000",
      "titleFont": "Liberation Sans", "titleFontWeight": "bold", "titleColor": "#000000",
      "domainColor": "#000000", "domainWidth": 1.5, "tickColor": "#000000", "tickWidth": 1.5,
      "labelOverlap": false, "labelFlush": false, "labelBound": false
    }
  }
}
